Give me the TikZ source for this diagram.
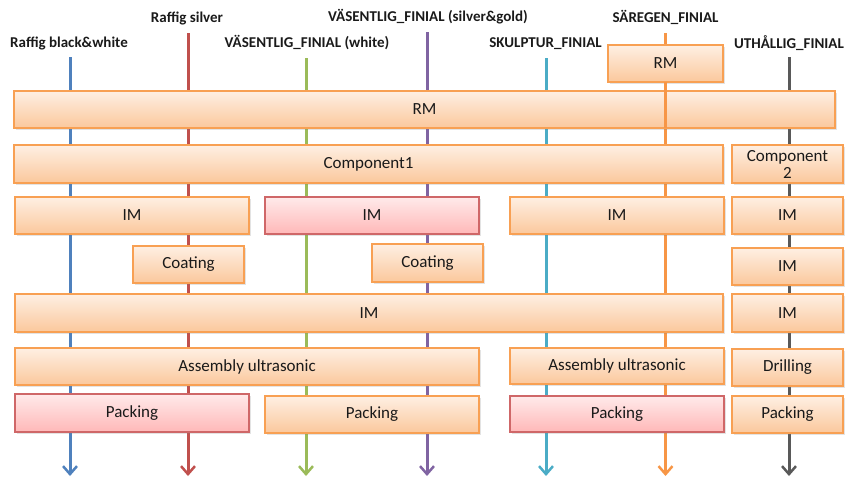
\documentclass[tikz,border=0pt]{standalone}
\usepackage{fontspec}
\setmainfont{Carlito}
\usetikzlibrary{arrows.meta,shadows}
\definecolor{cblue}{HTML}{4F81BD}
\definecolor{cred}{HTML}{C0504D}
\definecolor{cgreen}{HTML}{9BBB59}
\definecolor{cpurple}{HTML}{8064A2}
\definecolor{ccyan}{HTML}{4BACC6}
\definecolor{corange}{HTML}{F79646}
\definecolor{cgray}{HTML}{595959}
\definecolor{obord}{HTML}{F8A053}
\definecolor{otop}{HTML}{FEEFE3}
\definecolor{obot}{HTML}{FBC89C}
\definecolor{pbord}{HTML}{CF6768}
\definecolor{ptop}{HTML}{FFEAEA}
\definecolor{pbot}{HTML}{FFB8B8}
\definecolor{txt}{HTML}{1A1A1A}
\tikzset{
  flow/.style={line width=3pt, -{Straight Barb[length=8pt,width=14pt,line width=2.5pt]}},
  lbl/.style={font=\bfseries\fontsize{15}{17}\selectfont, text=txt, inner sep=0pt},
  boxbase/.style={line width=1.6pt, inner sep=0pt, outer sep=0pt, text=txt,
    font=\fontsize{17}{15}\selectfont, align=center,
    drop shadow={opacity=0.22, shadow xshift=1.5pt, shadow yshift=-1.5pt}},
  obox/.style={boxbase, draw=obord, top color=otop, bottom color=obot},
  pbox/.style={boxbase, draw=pbord, top color=ptop, bottom color=pbot},
}
\begin{document}
\begin{tikzpicture}[x=1pt,y=-1pt]
\useasboundingbox (0,0) rectangle (846,479);
% labels
\node[lbl] (lA) at (69,43) {Raffig black\&white};
\node[lbl] (lB) at (187,18) {Raffig silver};
\node[lbl] (lC) at (307,43) {VÄSENTLIG\_FINIAL (white)};
\node[lbl] (lD) at (428,17) {VÄSENTLIG\_FINIAL (silver\&gold)};
\node[lbl] (lE) at (545.5,44) {SKULPTUR\_FINIAL};
\node[lbl] (lF) at (665.5,17) {SÄREGEN\_FINIAL};
\node[lbl] (lG) at (789,43) {UTHÅLLIG\_FINIAL};
% line ends
\coordinate (tA) at (70,57);   \coordinate (eA) at (70,476);
\coordinate (tB) at (188,33);  \coordinate (eB) at (188,476);
\coordinate (tC) at (306,58);  \coordinate (eC) at (306,476);
\coordinate (tD) at (427,32);  \coordinate (eD) at (427,476);
\coordinate (tE) at (546,58);  \coordinate (eE) at (546,476);
\coordinate (tF) at (665.5,33);\coordinate (eF) at (665.5,476);
\coordinate (tG) at (789,57);  \coordinate (eG) at (789,476);
\draw[flow, cblue]   (tA) -- (eA);
\draw[flow, cred]    (tB) -- (eB);
\draw[flow, cgreen]  (tC) -- (eC);
\draw[flow, cpurple] (tD) -- (eD);
\draw[flow, ccyan]   (tE) -- (eE);
\draw[flow, corange] (tF) -- (eF);
\draw[flow, cgray]   (tG) -- (eG);
% boxes
\node[obox, minimum width=821pt, minimum height=37pt] (rmB) at (424.5,109.5) {RM};
\node[obox, minimum width=115pt, minimum height=37pt] (rmS) at (665.5,63.5) {RM};
\draw[corange, line width=3pt] (rmS.south) -- (rmS.south |- rmB.south);
\node[obox, minimum width=709pt, minimum height=38pt] (comp1) at (368.5,164) {Component1};
\node[obox, minimum width=111pt, minimum height=38pt, font=\fontsize{17}{17}\selectfont] (comp2) at (787.5,164) {Component\\2};
\node[obox, minimum width=234pt, minimum height=37pt] (im1) at (132,215.5) {IM};
\node[pbox, minimum width=214pt, minimum height=37pt] (im2) at (372,215.5) {IM};
\node[obox, minimum width=214pt, minimum height=37pt] (im3) at (617,215.5) {IM};
\node[obox, minimum width=111pt, minimum height=37pt] (im4) at (787.5,215.5) {IM};
\node[obox, minimum width=111pt, minimum height=37pt] (coat1) at (188.5,264.5) {Coating};
\node[obox, minimum width=111pt, minimum height=38pt] (coat2) at (427.5,263) {Coating};
\node[obox, minimum width=111pt, minimum height=37pt] (im5) at (787.5,266.5) {IM};
\node[obox, minimum width=708pt, minimum height=38pt] (imB) at (369,313) {IM};
\node[obox, minimum width=111pt, minimum height=38pt] (im6) at (787.5,313) {IM};
\node[obox, minimum width=464pt, minimum height=37pt] (asm1) at (247,366.5) {Assembly ultrasonic};
\node[obox, minimum width=214pt, minimum height=36pt] (asm2) at (617,366) {Assembly ultrasonic};
\node[obox, minimum width=111pt, minimum height=37pt] (drill) at (787.5,367.5) {Drilling};
\node[pbox, minimum width=234pt, minimum height=38pt] (pack1) at (132,413) {Packing};
\node[obox, minimum width=214pt, minimum height=37pt] (pack2) at (372,414.5) {Packing};
\node[pbox, minimum width=214pt, minimum height=36pt] (pack3) at (617,414) {Packing};
\node[obox, minimum width=111pt, minimum height=37pt] (pack4) at (787.5,414.5) {Packing};
\end{tikzpicture}
\end{document}
